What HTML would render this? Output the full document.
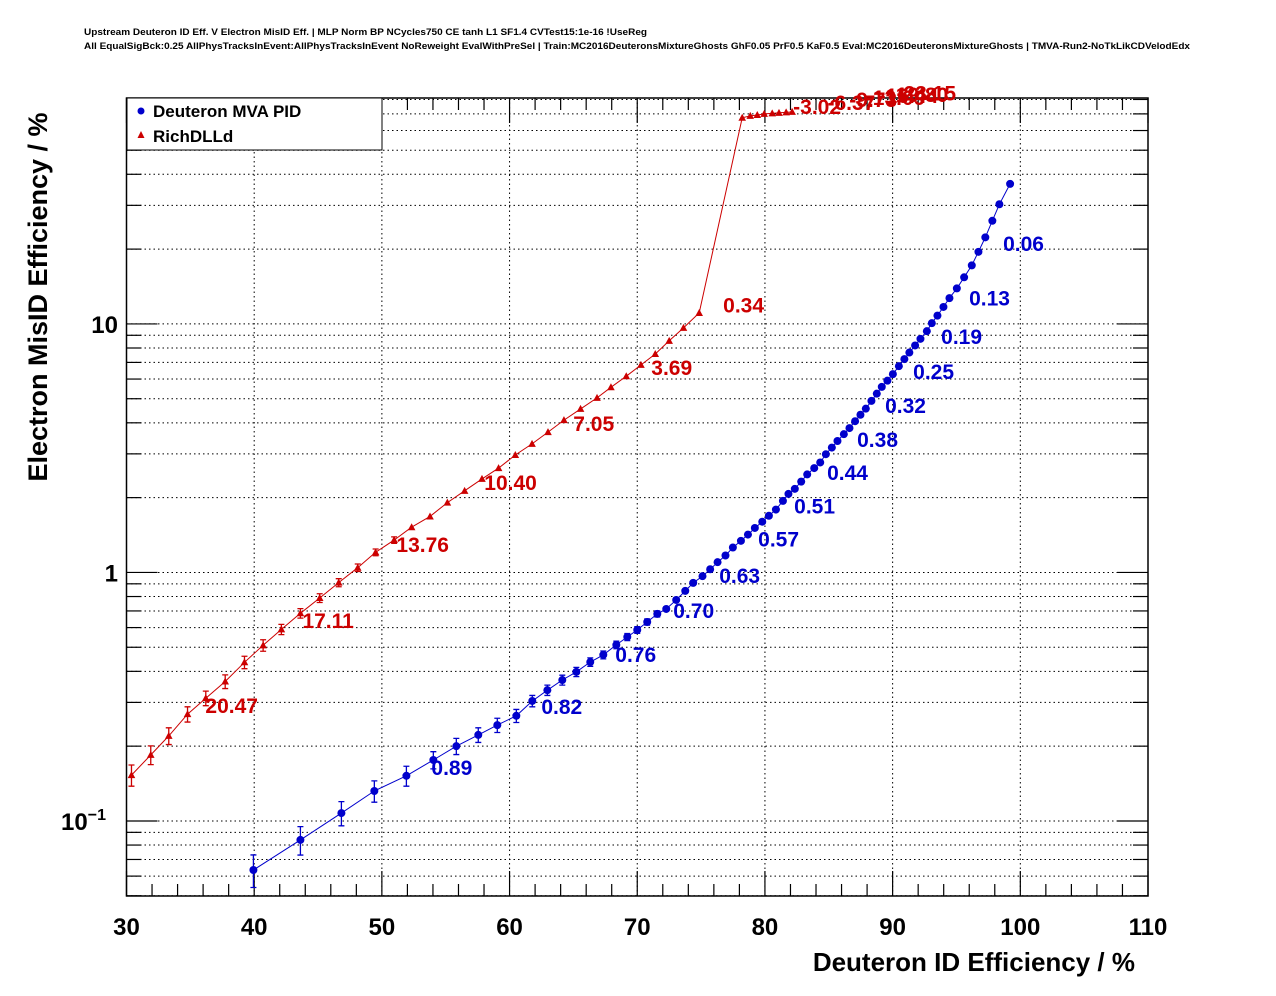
<!DOCTYPE html>
<html><head><meta charset="utf-8">
<style>
html,body{margin:0;padding:0;background:#fff;}
svg{display:block;font-family:"Liberation Sans",Arial,sans-serif;}
</style></head>
<body>
<svg id="chart" width="1276" height="996" viewBox="0 0 1276 996" xmlns="http://www.w3.org/2000/svg">
<rect width="1276" height="996" fill="#fff"/>
<text x="84" y="35" font-size="9.5" font-weight="bold" textLength="563" lengthAdjust="spacingAndGlyphs">Upstream Deuteron ID Eff. V Electron MisID Eff. | MLP Norm BP NCycles750 CE tanh L1 SF1.4 CVTest15:1e-16 !UseReg</text>
<text x="84" y="49" font-size="9.5" font-weight="bold" textLength="1106" lengthAdjust="spacingAndGlyphs">All EqualSigBck:0.25 AllPhysTracksInEvent:AllPhysTracksInEvent NoReweight EvalWithPreSel | Train:MC2016DeuteronsMixtureGhosts GhF0.05 PrF0.5 KaF0.5 Eval:MC2016DeuteronsMixtureGhosts | TMVA-Run2-NoTkLikCDVelodEdx</text>
<g id="grid"></g>
<g id="axes"></g>
<g id="series"></g>
<g id="labels"></g>
<text x="1135" y="971" font-size="26" font-weight="bold" text-anchor="end">Deuteron ID Efficiency / %</text>
<text transform="translate(47,297) rotate(-90)" font-size="27" font-weight="bold" text-anchor="middle">Electron MisID Efficiency / %</text>
<g>
<rect x="127" y="98" width="255" height="52" fill="#fff" stroke="#000" stroke-width="1"/>
<circle cx="141" cy="111" r="3.5" fill="#0000cc"/>
<text x="153" y="117" font-size="17" font-weight="bold">Deuteron MVA PID</text>
<path d="M141,131 L144.5,138 L137.5,138 Z" fill="#cc0000"/>
<text x="153" y="142" font-size="17" font-weight="bold">RichDLLd</text>
</g>
</svg>
<script>
const blueX=[39.94,43.62,46.83,49.41,51.92,54.03,55.83,57.55,59.04,60.53,61.78,62.96,64.13,65.23,66.32,67.34,68.36,69.22,70.00,70.78,71.57,72.27,73.05,73.76,74.38,75.11,75.71,76.29,76.91,77.49,78.12,78.67,79.21,79.79,80.31,80.86,81.41,81.84,82.34,82.84,83.31,83.86,84.33,84.77,85.24,85.68,86.18,86.62,87.06,87.48,87.90,88.34,88.76,89.15,89.59,90.02,90.49,90.92,91.31,91.76,92.18,92.68,93.07,93.51,93.98,94.45,95.03,95.60,96.20,96.72,97.26,97.81,98.36,99.20];
const blueY=[0.0635,0.0839,0.1076,0.132,0.152,0.176,0.200,0.222,0.243,0.265,0.304,0.336,0.369,0.398,0.436,0.466,0.511,0.550,0.587,0.632,0.681,0.713,0.775,0.843,0.908,0.966,1.03,1.10,1.17,1.26,1.34,1.42,1.51,1.60,1.69,1.79,1.94,2.07,2.17,2.32,2.48,2.63,2.77,2.99,3.18,3.38,3.60,3.81,4.06,4.31,4.56,4.90,5.24,5.58,5.91,6.28,6.76,7.22,7.67,8.19,8.71,9.35,10.07,10.8,11.7,12.7,13.9,15.4,17.2,19.5,22.3,26.0,30.3,36.6];
const blueErr=[0.0095,0.011,0.012,0.013,0.014,0.014,0.015,0.015,0.016,0.016,0.016,0.016,0.017,0.017,0.017,0.017,0.018,0.018,0.018,0.018,0.019,0.019,0.019,0.02,0.02,0.02,0.02,0.02,0.02,0.02,0.02,0.02,0.02,0.02,0.02,0.02,0.02,0.02,0.02,0.02,0.02,0.02,0.02,0.02,0.02,0.02,0.02,0.02,0.02,0.02,0.02,0.02,0.02,0.02,0.02,0.02,0.02,0.02,0.02,0.02,0.02,0.02,0.02,0.02,0.02,0.02,0.02,0.02,0.02,0.02,0.02,0.02,0.02,0.02];
const redX=[30.39,31.90,33.31,34.78,36.21,37.73,39.24,40.70,42.13,43.62,45.13,46.62,48.11,49.51,50.96,52.33,53.77,55.13,56.48,57.84,59.14,60.45,61.76,63.01,64.26,65.56,66.85,67.94,69.14,70.29,71.41,72.50,73.62,74.85,78.22,78.85,79.40,79.94,80.57,81.10,81.66,82.13];
const redY=[0.153,0.1845,0.220,0.269,0.312,0.364,0.435,0.509,0.590,0.685,0.789,0.910,1.045,1.205,1.35,1.52,1.68,1.91,2.13,2.38,2.63,2.97,3.29,3.67,4.10,4.55,5.04,5.56,6.16,6.84,7.57,8.55,9.64,11.07,67.5,68.7,69.3,70.0,70.3,70.7,71.0,71.3];
const redErr=[0.015,0.016,0.017,0.019,0.021,0.023,0.025,0.027,0.028,0.030,0.032,0.034,0.036,0.038,0.040,0.042,0.044,0.046,0.048,0.05,0.052,0.055,0.058,0.06,0.063,0.066,0.07,0.073,0.077,0.08,0.085,0.09,0.095,0.1,0.3,0.3,0.3,0.3,0.3,0.3,0.3,0.3];
const blueLabels=["0.06","0.13","0.19","0.25","0.32","0.38","0.44","0.51","0.57","0.63","0.70","0.76","0.82","0.89"];
const blueLabelX=[98.65,95.99,93.80,91.61,89.41,87.22,84.87,82.29,79.47,76.42,72.82,68.28,62.49,53.88];
const blueLabelY=[22.6,13.6,9.55,6.90,5.04,3.67,2.71,1.98,1.46,1.04,0.753,0.501,0.310,0.176];
const redLabels=["20.47","17.11","13.76","10.40","7.05","3.69","0.34","-3.02","-6.37","-9.73","-13.09","-16.44","-19.80","-23.15"];
const redLabelX=[36.18,43.78,51.14,58.02,64.99,71.10,76.73,82.21,84.90,86.60,87.90,88.90,89.70,90.30];
const redLabelY=[0.312,0.687,1.39,2.47,4.27,7.16,12.8,80.5,83.5,85.6,87.5,89.0,90.0,91.0];
const xTicks=[30,40,50,60,70,80,90,100,110];
const yMajor=[0.1,1,10];
const yMajorLabels=["10","1","10"];

const L=126.5,R=1148,T=98,B=896;
const XMIN=30,XMAX=110,YMIN=0.0499,YMAX=81.1;
const sx=v=>L+(v-XMIN)/(XMAX-XMIN)*(R-L);
const sy=v=>B-(Math.log10(v)-Math.log10(YMIN))/(Math.log10(YMAX)-Math.log10(YMIN))*(B-T);
const NS="http://www.w3.org/2000/svg";
function mk(tag,attrs,parent){const e=document.createElementNS(NS,tag);for(const k in attrs)e.setAttribute(k,attrs[k]);parent.appendChild(e);return e;}
const grid=document.getElementById('grid'),axes=document.getElementById('axes'),series=document.getElementById('series'),labels=document.getElementById('labels');

for(let d=-2;d<=1;d++){for(let m=1;m<=9;m++){const v=m*Math.pow(10,d);if(v<YMIN||v>YMAX)continue;const y=sy(v);
 const g=mk('line',{x1:L,x2:R,y1:y,y2:y,stroke:'#000','stroke-width':1,'stroke-dasharray':'1.5,3'},grid);
 
 
 const len=m===1?31:15;
 const t=mk('line',{x1:L,x2:L+len,y1:y,y2:y,stroke:'#000','stroke-width':1.2},axes);
 
 
 const t2=mk('line',{x1:R,x2:R-len,y1:y,y2:y,stroke:'#000','stroke-width':1.2},axes);
 
 
}}
for(let v=XMIN;v<=XMAX;v+=2){const x=sx(v);const major=(v%10===0);const len=major?25:12;
 if(major&&v>XMIN&&v<XMAX){const g=mk('line',{x1:x,x2:x,y1:T,y2:B,stroke:'#000','stroke-width':1,'stroke-dasharray':'1.5,3'},grid);
  
  }
 const t=mk('line',{x1:x,x2:x,y1:B,y2:B-len,stroke:'#000','stroke-width':1.2},axes);
 
 
 const t2=mk('line',{x1:x,x2:x,y1:T,y2:T+len,stroke:'#000','stroke-width':1.2},axes);
 
 
}
const frame=mk('rect',{x:L,y:T,width:R-L,height:B-T,fill:'none',stroke:'#000','stroke-width':1.5},axes);


xTicks.forEach(v=>{const t=mk('text',{x:sx(v),y:935,'font-size':24,'font-weight':'bold','text-anchor':'middle'},axes);t.textContent=v;
 
 });
yMajor.forEach((v,i)=>{const t=mk('text',{x:118,y:sy(v)+9,'font-size':24,'font-weight':'bold','text-anchor':'end'},axes);
 
 
 if(v===0.1){t.setAttribute('x',106);t.textContent='10';const s=mk('tspan',{dy:-10,'font-size':16},t);s.textContent='\u22121';}
 else t.textContent=yMajorLabels[i];});

function drawSeries(xs,ys,es,color,kind,name){
 const pts=xs.map((x,i)=>sx(x).toFixed(1)+','+sy(ys[i]).toFixed(1)).join(' ');
 const pl=mk('polyline',{points:pts,fill:'none',stroke:color,'stroke-width':1},series);
 
 
 xs.forEach((x,i)=>{const cx=sx(x),cy=sy(ys[i]);
  const y1=sy(ys[i]+es[i]),y2=sy(Math.max(ys[i]-es[i],1e-4));
  if(y2-y1>6){const eb=mk('path',{d:`M${cx},${y1}V${y2}M${cx-3},${y1}H${cx+3}M${cx-3},${y2}H${cx+3}`,stroke:color,'stroke-width':1.3,fill:'none'},series);
   
   }
  let m;
  if(kind==='circle'){m=mk('circle',{cx:cx,cy:cy,r:4,fill:color},series);}
  else{m=mk('path',{d:`M${cx},${cy-4}L${cx+3.8},${cy+3}L${cx-3.8},${cy+3}Z`,fill:color},series);}
  
  
 });
}
drawSeries(redX,redY,redErr,'#cc0000','tri','rich-dlld');
drawSeries(blueX,blueY,blueErr,'#0000cc','circle','mva-pid');

function drawLabels(txts,xs,ys,color,name){txts.forEach((s,i)=>{const t=mk('text',{x:sx(xs[i]),y:sy(ys[i])+15,'font-size':21,'font-weight':'bold',fill:color},labels);
 t.textContent=s;
 
 });}
drawLabels(redLabels,redLabelX,redLabelY,'#cc0000','rich-dlld');
drawLabels(blueLabels,blueLabelX,blueLabelY,'#0000cc','mva-pid');
</script>
</body></html>
